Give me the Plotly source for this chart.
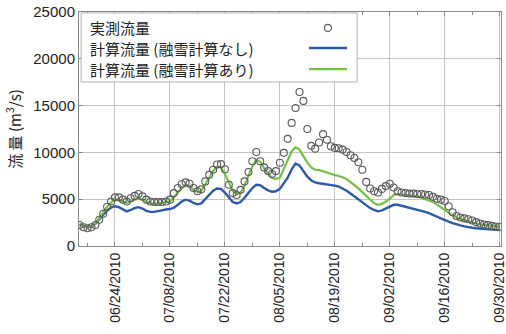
import pandas as pd
import plotly.graph_objects as go

start_date = "2010-06-15"
n_days = 108

observed = [2250, 2000, 1900, 2000, 2250, 2800, 3450, 4200, 4750, 5200,
            5200, 4950, 4750, 5100, 5350, 5550, 5300, 4950, 4750, 4700,
            4700, 4700, 4750, 4950, 5650, 6200, 6600, 6800, 6650, 6200,
            5850, 6050, 6900, 7600, 8150, 8700, 8750, 8200, 6550, 5650,
            5450, 6000, 6900, 7900, 9050, 10050, 9050, 8400, 8000, 7700,
            8000, 8900, 9950, 11450, 13150, 14750, 16450, 15500, 12500, 10700,
            10400, 11050, 11950, 11350, 10650, 10480, 10450, 10300, 10050, 9700,
            9400, 8950, 8150, 6850, 6150, 5850, 5720, 6100, 6400, 6650,
            6250, 5850, 5720, 5650, 5600, 5600, 5550, 5550, 5500, 5450,
            5250, 5050, 4950, 4800, 4250, 3600, 3200, 3050, 2950, 2850,
            2720, 2550, 2400, 2300, 2230, 2150, 2080, 2050]

calc_no_snow = [2350, 2100, 2000, 2050, 2400, 2900, 3400, 3800, 4100, 4250,
                4150, 3900, 3700, 3850, 4050, 4150, 4000, 3750, 3650, 3650,
                3750, 3850, 3900, 3950, 4100, 4400, 4750, 4950, 4850, 4600,
                4450, 4550, 5000, 5500, 5900, 6150, 6100, 5700, 5150, 4700,
                4550, 4700, 5150, 5700, 6200, 6550, 6500, 6200, 5950, 5800,
                5850, 6100, 6700, 7300, 8200, 8800, 8600, 8000, 7400, 7000,
                6800, 6700, 6650, 6550, 6500, 6450, 6350, 6150, 5900, 5600,
                5300, 5000, 4700, 4350, 4050, 3850, 3700, 3800, 4000, 4250,
                4400, 4400, 4300, 4200, 4100, 4000, 3900, 3800, 3650, 3500,
                3350, 3150, 2950, 2750, 2600, 2450, 2300, 2200, 2100, 2000,
                1950, 1900, 1850, 1800, 1780, 1750, 1720, 1700]

calc_snow = [2350, 2100, 2000, 2050, 2400, 2950, 3600, 4200, 4650, 4950,
             4950, 4750, 4600, 4750, 4950, 5050, 4950, 4700, 4550, 4500,
             4550, 4600, 4650, 4750, 5200, 5700, 6200, 6500, 6400, 6000,
             5750, 5900, 6600, 7400, 8000, 8450, 8400, 7700, 6700, 5900,
             5500, 5700, 6500, 7500, 8500, 9200, 9000, 8300, 7700, 7300,
             7150, 7300, 8200, 9200, 10100, 10550, 10300, 9600, 8900, 8400,
             8150, 8100, 8000, 7850, 7700, 7600, 7500, 7350, 7150, 6850,
             6500, 6150, 5750, 5300, 4900, 4550, 4400, 4500, 4750, 5050,
             5450, 5550, 5500, 5450, 5400, 5350, 5300, 5150, 5000, 4850,
             4700, 4450, 4150, 3850, 3550, 3250, 3050, 2900, 2750, 2600,
             2500, 2400, 2300, 2250, 2200, 2150, 2100, 2050]

tick_dates = ["2010-06-24", "2010-07-08", "2010-07-22", "2010-08-05",
              "2010-08-19", "2010-09-02", "2010-09-16", "2010-09-30"]
y_ticks = [0, 5000, 10000, 15000, 20000, 25000]

legend_labels = ["実測流量", "計算流量 (融雪計算なし)", "計算流量 (融雪計算あり)"]
y_title = "流 量 (m<sup>3</sup>/s)"

dates = pd.date_range(start_date, periods=n_days, freq="D")

BLUE = "#2d5ba8"
GREEN = "#74c043"
GRID = "#c4c4c4"
FRAME = "#8a8a8a"
TXT = "#222222"
CJK = "Noto Sans CJK JP"
LAT = "Liberation Sans, Arial, sans-serif"

fig = go.Figure()
fig.add_trace(go.Scatter(x=dates, y=calc_no_snow, mode="lines", name=legend_labels[1],
                         line=dict(color=BLUE, width=2.4), showlegend=False))
fig.add_trace(go.Scatter(x=dates, y=calc_snow, mode="lines", name=legend_labels[2],
                         line=dict(color=GREEN, width=2.2), showlegend=False))
fig.add_trace(go.Scatter(x=dates, y=observed, mode="markers", name=legend_labels[0],
                         marker=dict(symbol="circle-open", size=7, color="#5a5a5a",
                                     line=dict(width=1.1)), showlegend=False))

fig.update_xaxes(
    range=["2010-06-14 20:00", "2010-09-30 08:00"],
    tickvals=tick_dates, tickformat="%m/%d/%Y", tickangle=-90,
    tickfont=dict(family=LAT, size=14, color=TXT),
    showgrid=True, gridcolor=GRID, gridwidth=1,
    showline=True, linecolor=FRAME, linewidth=1, mirror="ticks",
    ticks="inside", ticklen=4, tickcolor=FRAME,
    minor=dict(dtick=7 * 86400000, tick0="2010-06-17", ticks="inside",
               ticklen=3, tickcolor=FRAME, showgrid=False),
    zeroline=False, automargin=False, ticklabeloverflow="allow",
)
fig.update_yaxes(
    range=[0, 25000], tickvals=y_ticks, tickformat="d",
    tickfont=dict(family=LAT, size=15, color=TXT),
    showgrid=True, gridcolor=GRID, gridwidth=1,
    showline=True, linecolor=FRAME, linewidth=1, mirror="ticks",
    ticks="inside", ticklen=4, tickcolor=FRAME,
    zeroline=False, automargin=False,
    title=dict(text=y_title, font=dict(family=CJK, size=15, color=TXT), standoff=8),
)

# manual legend (text left, symbols right), in paper coordinates
shapes = [dict(type="rect", xref="paper", yref="paper", x0=0.005, x1=0.659,
               y0=0.701, y1=0.996, fillcolor="white",
               line=dict(color="#b0b0b0", width=1), layer="above")]
rows_y = [0.932, 0.846, 0.756]
sym_x = [0.545, 0.635]
shapes.append(dict(type="circle", xref="paper", yref="paper", xsizemode="pixel",
                   ysizemode="pixel", xanchor=sum(sym_x) / 2, yanchor=rows_y[0],
                   x0=-3.5, x1=3.5, y0=-3.5, y1=3.5,
                   line=dict(color="#5a5a5a", width=1.1), layer="above"))
for yy, col in zip(rows_y[1:], [BLUE, GREEN]):
    shapes.append(dict(type="line", xref="paper", yref="paper", x0=sym_x[0], x1=sym_x[1],
                       y0=yy, y1=yy, line=dict(color=col, width=2.4), layer="above"))
annotations = []
for yy, lab in zip(rows_y, legend_labels):
    annotations.append(dict(text=lab, xref="paper", yref="paper", x=0.021, y=yy,
                            xanchor="left", yanchor="middle", showarrow=False,
                            font=dict(family=CJK, size=15, color=TXT)))

fig.update_layout(
    width=506, height=334,
    margin=dict(l=79, r=5, t=12, b=88, autoexpand=False),
    paper_bgcolor="white", plot_bgcolor="white",
    shapes=shapes, annotations=annotations,
    showlegend=False,
)

fig.write_html("out.html", config={"displayModeBar": False},
               post_script="document.body.style.margin='0';document.body.style.overflow='hidden';")
